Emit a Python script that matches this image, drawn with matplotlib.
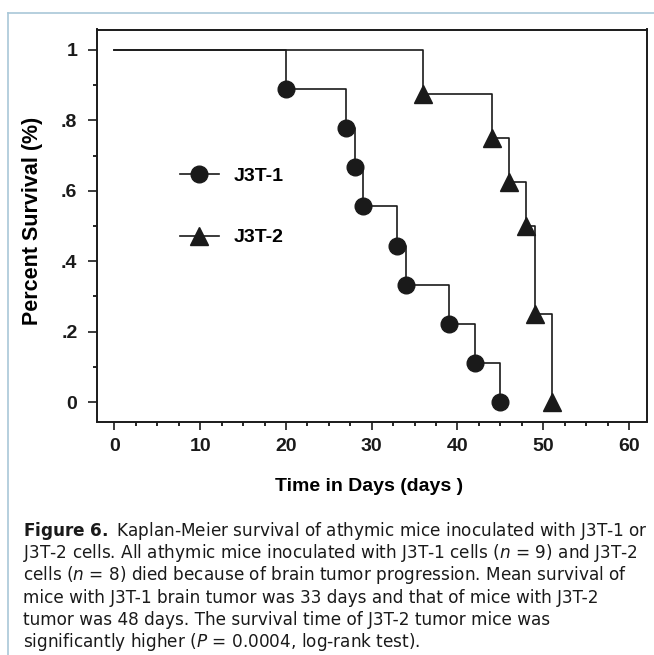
import matplotlib
matplotlib.use("Agg")
import matplotlib.pyplot as plt
from matplotlib.lines import Line2D

plt.rcParams['font.family'] = ['Liberation Sans', 'DejaVu Sans']
plt.rcParams['mathtext.fontset'] = 'dejavusans'

# Kaplan-Meier data
j3t1_days = [20, 27, 28, 29, 33, 34, 39, 42, 45]
j3t1_surv = [0.889, 0.778, 0.667, 0.556, 0.444, 0.333, 0.222, 0.111, 0.0]
j3t2_days = [36, 44, 46, 48, 49, 51]
j3t2_surv = [0.875, 0.75, 0.625, 0.5, 0.25, 0.0]

x_ticks = [0, 10, 20, 30, 40, 50, 60]
y_ticks = [0, 0.2, 0.4, 0.6, 0.8, 1.0]
y_tick_labels = ["0", ".2", ".4", ".6", ".8", "1"]

caption = [
    r"$\mathbf{Figure\ 6.}$ Kaplan-Meier survival of athymic mice inoculated with J3T-1 or",
    r"J3T-2 cells. All athymic mice inoculated with J3T-1 cells ($n$ = 9) and J3T-2",
    r"cells ($n$ = 8) died because of brain tumor progression. Mean survival of",
    r"mice with J3T-1 brain tumor was 33 days and that of mice with J3T-2",
    r"tumor was 48 days. The survival time of J3T-2 tumor mice was",
    r"significantly higher ($P$ = 0.0004, log-rank test).",
]

W, H = 654, 655
fig = plt.figure(figsize=(W / 100, H / 100), dpi=100)
ax = fig.add_axes([97 / W, 1 - 421.5 / H, 550 / W, 392 / H])

ink = '#1a1a1a'
ax.step([0] + j3t1_days, [1.0] + j3t1_surv, where='post', color=ink, lw=1.2)
ax.step([0] + j3t2_days, [1.0] + j3t2_surv, where='post', color=ink, lw=1.2)
ax.plot(j3t1_days, j3t1_surv, 'o', color=ink, ms=12, zorder=3)
ax.plot(j3t2_days, j3t2_surv, '^', color=ink, ms=13, zorder=3)

ax.set_xlim(-2.04, 62.1)
ax.set_ylim(-0.055, 1.058)
ax.set_xticks(x_ticks)
ax.set_xticks([t + d for t in x_ticks[:-1] for d in (2.5, 5, 7.5)], minor=True)
ax.set_yticks(y_ticks)
ax.set_yticklabels(y_tick_labels)
ax.set_yticks([t + 0.1 for t in y_ticks[:-1]], minor=True)
ax.tick_params(which='major', direction='out', width=1.2, labelsize=14, colors=ink)
ax.tick_params(which='minor', direction='out', length=3, width=1.2)
ax.tick_params(axis='x', which='major', length=5.8, pad=6.3)
ax.tick_params(axis='y', which='major', length=6.7, pad=7.4)
for lab in ax.get_xticklabels() + ax.get_yticklabels():
    lab.set_fontweight('bold')
for s in ax.spines.values():
    s.set_linewidth(1.4)
    s.set_color(ink)

ax.set_xlabel("Time in Days (days )", fontsize=14, fontweight='bold')
ax.xaxis.set_label_coords(0.4945, -0.144)
ax.xaxis.label.set_va('top')
ax.set_ylabel("Percent Survival (%)", fontsize=15.5, fontweight='bold')
ax.yaxis.set_label_coords(-0.098, 0.511)

handles = [
    Line2D([], [], color=ink, lw=1.2, marker='o', ms=12, label="J3T-1"),
    Line2D([], [], color=ink, lw=1.2, marker='^', ms=13, label="J3T-2"),
]
leg = ax.legend(handles=handles, loc='center left', bbox_to_anchor=(0.151, 0.547),
                frameon=False, handlelength=2.0, handletextpad=0.77,
                labelspacing=2.24, borderpad=0, borderaxespad=0,
                prop={'size': 14, 'weight': 'bold'})

# light blue page frame
fig.add_artist(Line2D([8 / W, 8 / W], [0, 1 - 13 / H], color='#a9c7d8', lw=1.2))
fig.add_artist(Line2D([8 / W, 1], [1 - 13 / H, 1 - 13 / H], color='#a9c7d8', lw=1.2))

for i, line in enumerate(caption):
    fig.text(23 / W, 1 - (536 + 22.2 * i) / H, line, fontsize=12.2,
             family='DejaVu Sans', va='baseline', ha='left', color=ink)

fig.savefig("out.png", dpi=100)
